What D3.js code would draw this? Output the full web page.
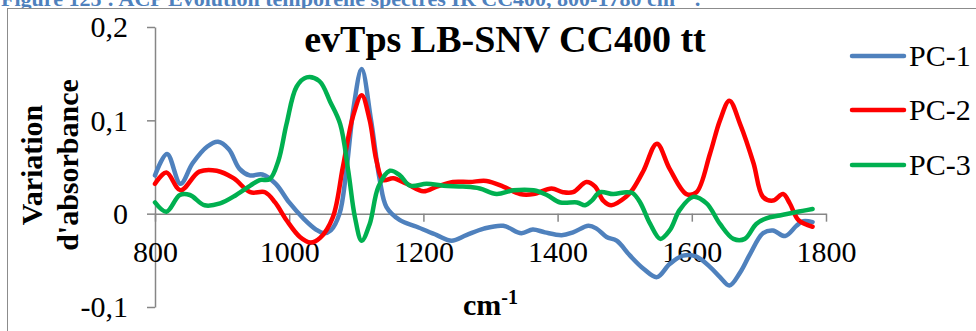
<!DOCTYPE html>
<html>
<head>
<meta charset="utf-8">
<script src="https://cdn.jsdelivr.net/npm/d3@7"></script>
<style>
  html, body { margin: 0; padding: 0; background: #fff; overflow: hidden; }
  svg { display: block; }
</style>
</head>
<body>
<div id="chart"></div>
<script>
// PCA loadings vs wavenumber (cm-1)
const seriesNames = ["PC-1", "PC-2", "PC-3"];
const seriesColors = ["#4F81BD", "#FF0000", "#00B050"];

const pc1 = [
  [800, 0.041], [818, 0.064], [838, 0.032], [856, 0.054], [878, 0.072], [894, 0.077],
  [910, 0.069], [926, 0.048], [941, 0.041], [960, 0.042], [980, 0.032], [1000, 0.012],
  [1021, -0.005], [1040, -0.017], [1052, -0.021], [1062, -0.018], [1075, 0.0], [1085, 0.045],
  [1096, 0.114], [1108, 0.155], [1122, 0.1], [1135, 0.036], [1145, 0.007], [1165, -0.007],
  [1190, -0.014], [1220, -0.023], [1242, -0.029], [1264, -0.023], [1290, -0.016], [1319, -0.013],
  [1346, -0.021], [1363, -0.017], [1381, -0.020], [1406, -0.023], [1423, -0.020], [1446, -0.013],
  [1458, -0.016], [1473, -0.025], [1488, -0.029], [1508, -0.045], [1528, -0.059], [1548, -0.068],
  [1567, -0.054], [1587, -0.045], [1607, -0.046], [1627, -0.057], [1642, -0.068], [1656, -0.077],
  [1672, -0.063], [1687, -0.043], [1706, -0.021], [1721, -0.018], [1739, -0.024], [1756, -0.013],
  [1766, -0.008], [1780, -0.009]
];

const pc2 = [
  [800, 0.032], [817, 0.044], [838, 0.025], [866, 0.045], [892, 0.046], [917, 0.038],
  [942, 0.023], [964, 0.023], [979, 0.012], [996, -0.007], [1016, -0.025], [1032, -0.031],
  [1046, -0.026], [1065, -0.004], [1080, 0.05], [1095, 0.104], [1108, 0.127], [1120, 0.1],
  [1130, 0.057], [1140, 0.036], [1155, 0.038], [1175, 0.032], [1200, 0.024], [1220, 0.029],
  [1244, 0.034], [1269, 0.034], [1294, 0.035], [1319, 0.029], [1344, 0.021], [1364, 0.021],
  [1391, 0.027], [1408, 0.023], [1423, 0.023], [1443, 0.034], [1456, 0.029], [1468, 0.014],
  [1480, 0.009], [1502, 0.018], [1512, 0.026], [1528, 0.046], [1548, 0.075], [1567, 0.048],
  [1592, 0.021], [1607, 0.023], [1627, 0.064], [1642, 0.100], [1656, 0.121], [1672, 0.096],
  [1692, 0.054], [1706, 0.018], [1721, 0.014], [1736, 0.021], [1746, 0.011], [1759, -0.007],
  [1780, -0.014]
];

const pc3 = [
  [800, 0.012], [817, 0.002], [837, 0.020], [852, 0.020], [874, 0.009], [897, 0.011],
  [921, 0.020], [942, 0.030], [956, 0.036], [971, 0.037], [984, 0.057], [996, 0.096],
  [1011, 0.136], [1026, 0.146], [1045, 0.142], [1061, 0.120], [1076, 0.096], [1088, 0.046],
  [1098, -0.004], [1108, -0.029], [1120, -0.011], [1133, 0.029], [1150, 0.046], [1165, 0.041],
  [1180, 0.030], [1205, 0.032], [1230, 0.030], [1259, 0.029], [1284, 0.027], [1309, 0.021],
  [1334, 0.025], [1364, 0.025], [1384, 0.020], [1404, 0.012], [1429, 0.012], [1441, 0.009],
  [1451, 0.014], [1463, 0.023], [1483, 0.021], [1502, 0.023], [1512, 0.022], [1523, 0.012],
  [1538, -0.011], [1553, -0.027], [1567, -0.018], [1582, 0.004], [1602, 0.018], [1622, 0.011],
  [1642, -0.011], [1662, -0.027], [1679, -0.027], [1696, -0.011], [1711, -0.005], [1731, -0.002],
  [1751, 0.001], [1765, 0.003], [1780, 0.005]
];

const xTicks = [800, 1000, 1200, 1400, 1600, 1800];
const yTicks = [-0.1, 0, 0.1, 0.2];

const width = 976;
const height = 331;
const serif = "'Liberation Serif', 'Times New Roman', serif";
const axisColor = "#868686";

const svg = d3.select("#chart")
  .append("svg")
  .attr("width", width)
  .attr("height", height);

// caption of the figure, its top is cut off in the source picture
svg.append("text")
  .attr("x", 1)
  .attr("y", 6)
  .style("font-family", serif)
  .style("font-weight", "bold")
  .style("font-size", "22px")
  .style("fill", "#4F81BD")
  .text("Figure 125 : ACP Evolution temporelle spectres IR CC400, 800-1780 cm⁻¹ :");

// chart frame
svg.append("rect")
  .attr("x", 7.5)
  .attr("y", 8.5)
  .attr("width", 1000)
  .attr("height", 400)
  .style("fill", "#fff")
  .style("stroke", "#8c8c8c")
  .style("stroke-width", 1);

// scales
const x = d3.scaleLinear().domain([800, 1800]).range([155, 826]);
const y = d3.scaleLinear().domain([-0.1, 0.2]).range([307, 27]);
const fmt = (d) => (d === 0 ? "0" : d3.format(".1f")(d).replace(".", ",").replace("\u2212", "-"));

// y axis
const yAxis = svg.append("g")
  .attr("transform", `translate(${x(800)},0)`)
  .call(d3.axisLeft(y).tickValues(yTicks).tickSize(8).tickSizeOuter(0).tickFormat(fmt));
yAxis.select(".domain").style("stroke", axisColor).style("stroke-width", 1.5);
yAxis.selectAll(".tick line").style("stroke", axisColor).style("stroke-width", 1.5);
yAxis.selectAll(".tick text")
  .attr("x", -27)
  .attr("dy", "0.33em")
  .style("font-family", serif)
  .style("font-size", "30px")
  .style("fill", "#000");

// x axis sits at value 0
const xAxis = svg.append("g")
  .attr("transform", `translate(0,${y(0)})`)
  .call(d3.axisBottom(x).tickValues(xTicks).tickSize(8).tickSizeOuter(0).tickFormat(d3.format("d")));
xAxis.select(".domain").style("stroke", axisColor).style("stroke-width", 1.5);
xAxis.selectAll(".tick line").style("stroke", axisColor).style("stroke-width", 1.5);
xAxis.selectAll(".tick text")
  .attr("y", 48)
  .attr("dy", 0)
  .style("font-family", serif)
  .style("font-size", "30px")
  .style("fill", "#000");

// curves
const line = d3.line()
  .x((d) => x(d[0]))
  .y((d) => y(d[1]))
  .curve(d3.curveCatmullRom.alpha(0.5));

const allSeries = [pc1, pc2, pc3];
svg.append("g")
  .selectAll("path")
  .data(allSeries)
  .enter()
  .append("path")
  .attr("d", (d) => line(d))
  .style("fill", "none")
  .style("stroke", (d, i) => seriesColors[i])
  .style("stroke-width", 4.5)
  .style("stroke-linejoin", "round")
  .style("stroke-linecap", "round");

// title
svg.append("text")
  .attr("x", 505)
  .attr("y", 52)
  .attr("text-anchor", "middle")
  .style("font-family", serif)
  .style("font-weight", "bold")
  .style("font-size", "38px")
  .text("evTps LB-SNV CC400 tt");

// y axis title (two lines)
const yTitle = svg.append("text")
  .attr("transform", "translate(0,165) rotate(-90)")
  .attr("text-anchor", "middle")
  .style("font-family", serif)
  .style("font-weight", "bold")
  .style("font-size", "30px");
yTitle.append("tspan").attr("x", 0).attr("y", 42).text("Variation");
yTitle.append("tspan").attr("x", 0).attr("y", 78).text("d'absorbance");

// x axis title
const xTitle = svg.append("text")
  .attr("x", 463)
  .attr("y", 315)
  .style("font-family", serif)
  .style("font-weight", "bold")
  .style("font-size", "30px");
xTitle.append("tspan").text("cm");
xTitle.append("tspan")
  .attr("dy", -11)
  .style("font-size", "20px")
  .text("-1");

// legend
const legend = svg.append("g").attr("class", "legend");
const legendY = [56, 110, 165];
seriesNames.forEach((name, i) => {
  legend.append("line")
    .attr("x1", 852)
    .attr("x2", 904)
    .attr("y1", legendY[i])
    .attr("y2", legendY[i])
    .style("stroke", seriesColors[i])
    .style("stroke-width", 4.5)
    .style("stroke-linecap", "round");
  legend.append("text")
    .attr("x", 909)
    .attr("y", legendY[i] + 10)
    .style("font-family", serif)
    .style("font-size", "30px")
    .text(name);
});
</script>
</body>
</html>
